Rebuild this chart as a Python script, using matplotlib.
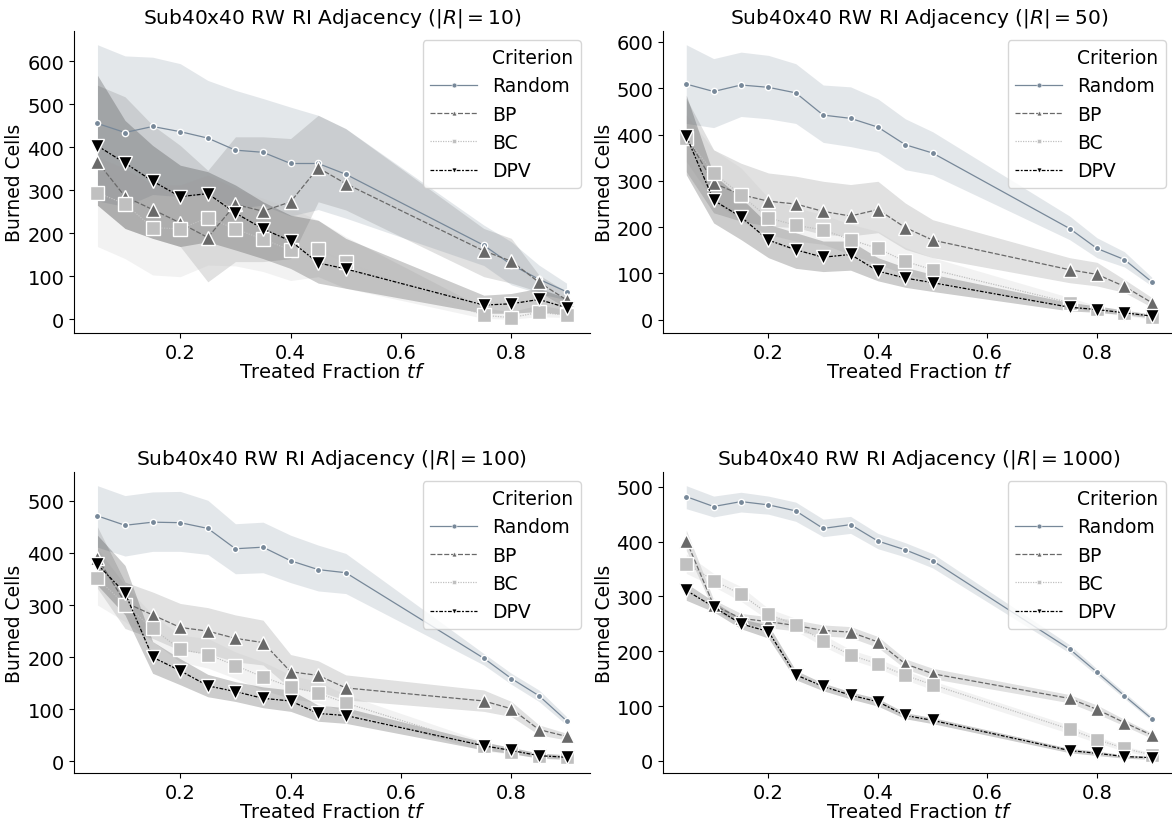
import matplotlib
matplotlib.use("Agg")
import matplotlib.pyplot as plt
from matplotlib.lines import Line2D
from matplotlib.ticker import MultipleLocator
import numpy as np

tf = [0.05, 0.10, 0.15, 0.20, 0.25, 0.30, 0.35, 0.40, 0.45, 0.50, 0.75, 0.80, 0.85, 0.90]
r_sizes = [10, 50, 100, 1000]
criteria = ["Random", "BP", "BC", "DPV"]

# ---- |R| = 10 ----
r10_random = [455, 434, 448, 436, 421, 393, 388, 362, 362, 337, 172, 127, 93, 64]
r10_random_lo = [275, 262, 290, 285, 290, 258, 265, 240, 255, 235, 125, 80, 60, 45]
r10_random_hi = [638, 612, 609, 594, 555, 532, 513, 493, 474, 443, 219, 180, 126, 84]
r10_bp = [366, 285, 255, 224, 190, 267, 251, 273, 352, 315, 159, 135, 86, 45]
r10_bp_lo = [265, 211, 188, 169, 87, 134, 134, 141, 273, 254, 99, 84, 64, 26]
r10_bp_hi = [544, 517, 451, 404, 346, 424, 424, 420, 474, 443, 211, 188, 103, 64]
r10_bc = [294, 268, 213, 210, 236, 210, 186, 161, 163, 132, 9, 4, 16, 10]
r10_bc_lo = [169, 141, 103, 99, 126, 124, 111, 90, 99, 72, 2, 0, 6, 4]
r10_bc_hi = [377, 350, 312, 312, 335, 304, 281, 258, 230, 192, 26, 18, 33, 22]
r10_dpv = [403, 363, 321, 285, 292, 247, 210, 182, 131, 117, 33, 36, 46, 27]
r10_dpv_lo = [265, 211, 188, 169, 180, 161, 141, 118, 84, 72, 14, 14, 18, 10]
r10_dpv_hi = [567, 462, 404, 358, 343, 312, 273, 242, 230, 188, 56, 60, 72, 49]

# ---- |R| = 50 ----
r50_random = [509, 493, 507, 502, 490, 442, 435, 416, 378, 360, 197, 154, 130, 82]
r50_random_lo = [424, 415, 439, 434, 424, 383, 374, 362, 324, 313, 173, 134, 114, 73]
r50_random_hi = [594, 564, 578, 571, 553, 507, 503, 477, 434, 406, 224, 177, 147, 92]
r50_bp = [397, 295, 270, 256, 250, 234, 224, 238, 199, 172, 108, 98, 72, 37]
r50_bp_lo = [320, 231, 213, 202, 199, 184, 181, 188, 152, 134, 80, 73, 59, 27]
r50_bp_hi = [478, 367, 338, 317, 310, 299, 292, 299, 252, 216, 134, 124, 87, 48]
r50_bc = [392, 318, 269, 220, 204, 194, 173, 154, 126, 108, 37, 23, 14, 5]
r50_bc_lo = [342, 256, 213, 184, 170, 163, 141, 120, 98, 84, 27, 16, 9, 1]
r50_bc_hi = [442, 367, 328, 263, 242, 227, 206, 191, 156, 134, 48, 30, 19, 9]
r50_dpv = [397, 258, 222, 172, 151, 135, 141, 105, 90, 80, 27, 22, 15, 8]
r50_dpv_lo = [313, 209, 173, 134, 111, 104, 107, 84, 70, 61, 19, 16, 11, 4]
r50_dpv_hi = [485, 313, 263, 206, 188, 170, 170, 134, 113, 98, 37, 30, 21, 12]

# ---- |R| = 100 ----
r100_random = [471, 453, 459, 458, 447, 408, 411, 385, 368, 362, 198, 159, 126, 78]
r100_random_lo = [411, 394, 403, 403, 397, 360, 362, 343, 327, 322, 185, 148, 115, 70]
r100_random_hi = [529, 510, 517, 518, 501, 456, 459, 434, 415, 399, 207, 169, 137, 86]
r100_bp = [390, 305, 281, 257, 250, 236, 228, 172, 165, 141, 116, 101, 61, 48]
r100_bp_lo = [332, 255, 236, 213, 207, 191, 185, 140, 134, 118, 96, 86, 51, 41]
r100_bp_hi = [450, 344, 325, 303, 295, 281, 271, 205, 193, 166, 137, 115, 70, 54]
r100_bc = [351, 301, 255, 215, 205, 184, 162, 143, 131, 112, 29, 19, 11, 8]
r100_bc_lo = [300, 268, 230, 191, 179, 159, 137, 121, 112, 96, 20, 14, 8, 4]
r100_bc_hi = [408, 338, 281, 242, 236, 210, 191, 166, 153, 128, 38, 26, 16, 11]
r100_dpv = [378, 323, 200, 174, 145, 134, 121, 116, 92, 88, 30, 21, 11, 8]
r100_dpv_lo = [338, 281, 169, 147, 124, 115, 103, 96, 77, 73, 22, 15, 6, 4]
r100_dpv_hi = [434, 376, 230, 197, 167, 153, 143, 137, 108, 103, 37, 27, 16, 13]

# ---- |R| = 1000 ----
r1000_random = [482, 464, 473, 467, 456, 424, 431, 401, 385, 365, 204, 162, 119, 77]
r1000_random_lo = [460, 445, 454, 450, 437, 409, 415, 387, 372, 352, 197, 156, 114, 73]
r1000_random_hi = [502, 483, 490, 483, 472, 441, 446, 415, 398, 378, 212, 168, 125, 82]
r1000_bp = [402, 284, 260, 254, 247, 238, 235, 217, 177, 159, 114, 94, 70, 47]
r1000_bp_lo = [384, 275, 251, 243, 237, 228, 225, 207, 168, 150, 106, 86, 64, 41]
r1000_bp_hi = [421, 294, 269, 263, 257, 248, 245, 227, 186, 169, 121, 102, 76, 51]
r1000_bc = [360, 329, 304, 268, 248, 219, 193, 177, 156, 139, 58, 39, 23, 11]
r1000_bc_lo = [342, 318, 291, 257, 237, 209, 185, 169, 148, 130, 50, 33, 18, 7]
r1000_bc_hi = [378, 342, 318, 278, 260, 230, 203, 187, 165, 146, 65, 45, 27, 15]
r1000_dpv = [311, 281, 250, 236, 157, 136, 120, 108, 83, 74, 19, 14, 8, 6]
r1000_dpv_lo = [293, 272, 241, 224, 148, 128, 113, 100, 77, 68, 15, 10, 5, 3]
r1000_dpv_hi = [324, 291, 259, 248, 165, 142, 126, 114, 88, 79, 23, 18, 11, 9]

panels = {
    10: {"Random": (r10_random, r10_random_lo, r10_random_hi),
         "BP": (r10_bp, r10_bp_lo, r10_bp_hi),
         "BC": (r10_bc, r10_bc_lo, r10_bc_hi),
         "DPV": (r10_dpv, r10_dpv_lo, r10_dpv_hi)},
    50: {"Random": (r50_random, r50_random_lo, r50_random_hi),
         "BP": (r50_bp, r50_bp_lo, r50_bp_hi),
         "BC": (r50_bc, r50_bc_lo, r50_bc_hi),
         "DPV": (r50_dpv, r50_dpv_lo, r50_dpv_hi)},
    100: {"Random": (r100_random, r100_random_lo, r100_random_hi),
          "BP": (r100_bp, r100_bp_lo, r100_bp_hi),
          "BC": (r100_bc, r100_bc_lo, r100_bc_hi),
          "DPV": (r100_dpv, r100_dpv_lo, r100_dpv_hi)},
    1000: {"Random": (r1000_random, r1000_random_lo, r1000_random_hi),
           "BP": (r1000_bp, r1000_bp_lo, r1000_bp_hi),
           "BC": (r1000_bc, r1000_bc_lo, r1000_bc_hi),
           "DPV": (r1000_dpv, r1000_dpv_lo, r1000_dpv_hi)},
}

# seaborn-style default dash patterns
styles = {
    "Random": dict(color="#778899", dashes=(None, None), marker="o", ms=4.5),
    "BP": dict(color="#696969", dashes=(4, 1.5), marker="^", ms=10),
    "BC": dict(color="#c0c0c0", dashes=(1, 1), marker="s", ms=9.5),
    "DPV": dict(color="#000000", dashes=(3, 1.25, 1.5, 1.25), marker="v", ms=10),
}

plt.rcParams["font.family"] = ["DejaVu Sans"]
plt.rcParams["mathtext.fontset"] = "dejavusans"

W, H = 1172, 820
fig = plt.figure(figsize=(W / 100, H / 100), dpi=100)
rects = [
    [74 / W, 1 - 334 / H, 516 / W, 302 / H],
    [663 / W, 1 - 334 / H, 512 / W, 302 / H],
    [74 / W, 1 - 774 / H, 516 / W, 301 / H],
    [663 / W, 1 - 774 / H, 512 / W, 301 / H],
]


def make_line(ax_or_none, st, x=None, y=None, ms=None, mew=1.0):
    kw = dict(color=st["color"], lw=0.9, marker=st["marker"], ms=ms,
              mec="white", mew=mew)
    if st["dashes"][0] is None:
        kw["ls"] = "-"
    else:
        kw["dashes"] = st["dashes"]
    if ax_or_none is None:
        return Line2D([], [], **kw)
    return ax_or_none.plot(x, y, **kw)


for rect, r in zip(rects, r_sizes):
    ax = fig.add_axes(rect)
    data = panels[r]
    for c in criteria:
        mean, lo, hi = data[c]
        st = styles[c]
        ax.fill_between(tf, lo, hi, color=st["color"], alpha=0.2, linewidth=0)
        make_line(ax, st, tf, mean, ms=st["ms"])
    ax.spines["top"].set_visible(False)
    ax.spines["right"].set_visible(False)
    ax.set_xticks([0.2, 0.4, 0.6, 0.8])
    ax.set_xticklabels(["0.2", "0.4", "0.6", "0.8"])
    ax.yaxis.set_major_locator(MultipleLocator(100))
    ax.tick_params(labelsize=14)
    ax.set_xlabel("Treated Fraction $tf$", fontsize=14, labelpad=0)
    ax.set_ylabel("Burned Cells", fontsize=13.5, labelpad=2)
    ax.set_title(f"Sub40x40 RW RI Adjacency ($|R|={r}$)", fontsize=14.5)

    handles = [Line2D([], [], color="none")]
    labels = ["Criterion"]
    for c in criteria:
        handles.append(make_line(None, styles[c], ms=3.5, mew=0.4))
        labels.append(c)
    ax.legend(handles, labels, loc="upper right", fontsize=13.5, framealpha=0.8,
              handlelength=2.5)

fig.savefig("out.png", dpi=100)
